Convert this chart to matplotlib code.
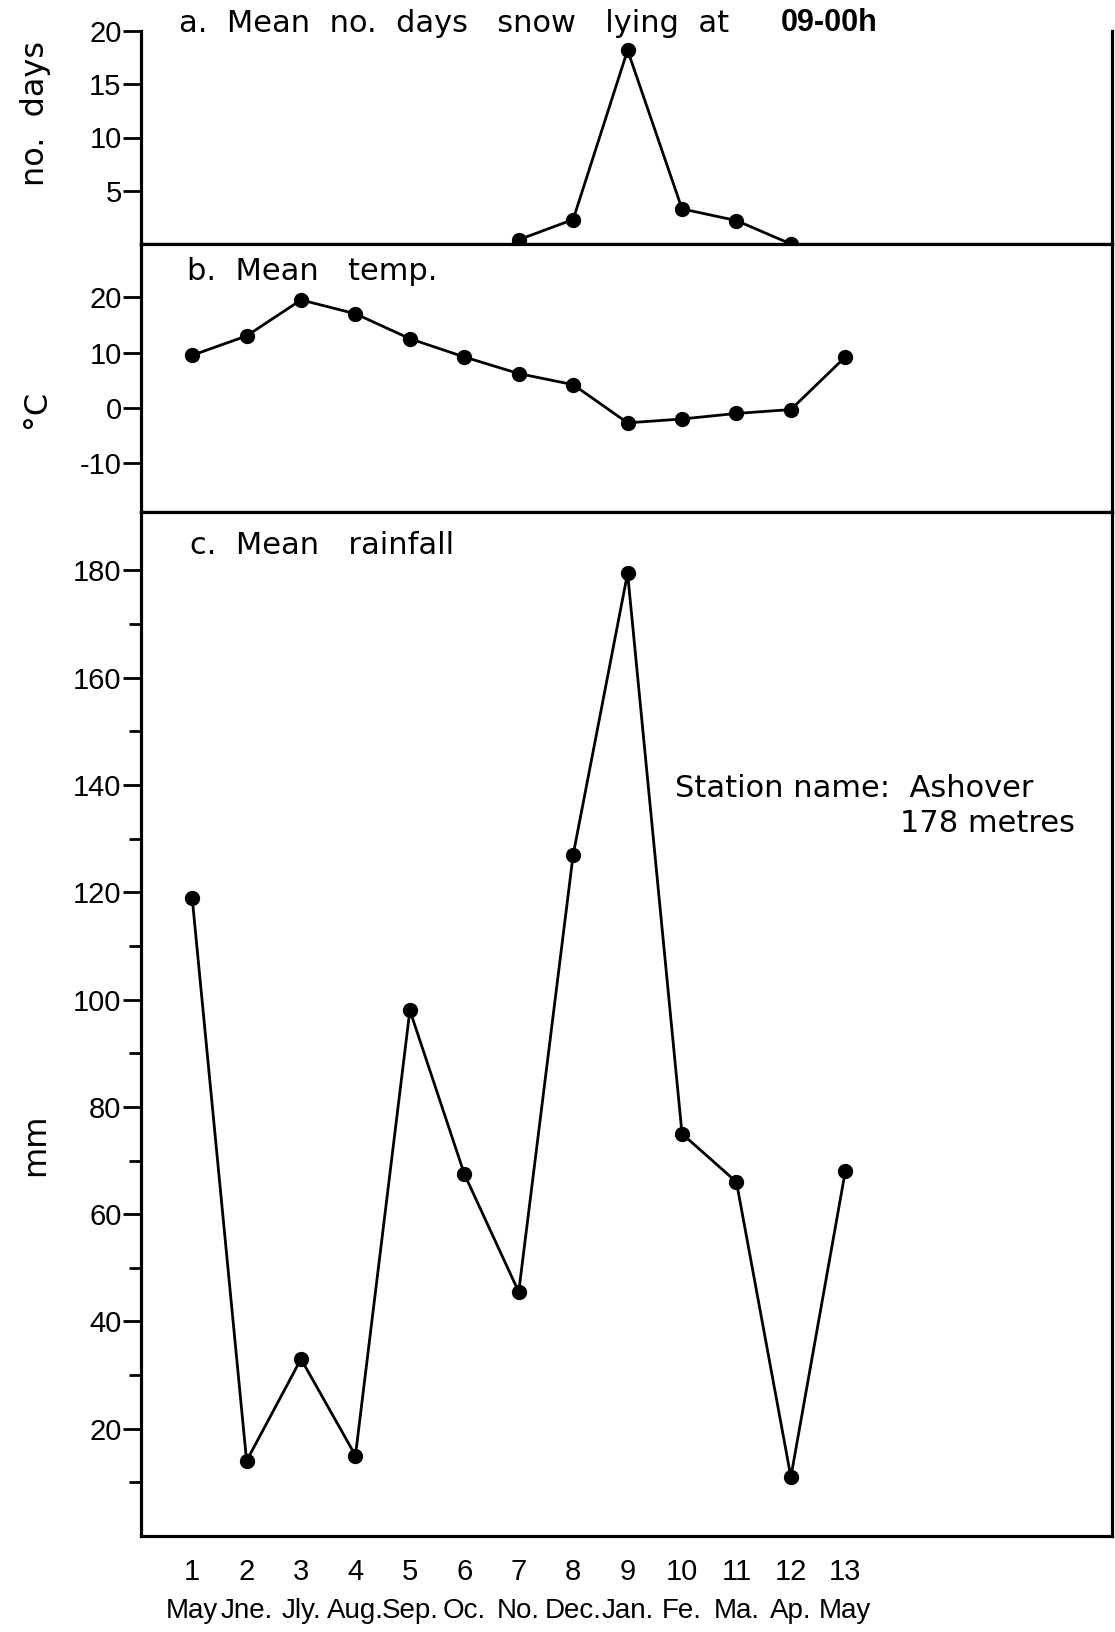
import matplotlib
matplotlib.use("Agg")
import matplotlib.pyplot as plt
import matplotlib.transforms as mtransforms

# ---- data ----
months_num = list(range(1, 14))
month_names = ["May", "Jne.", "Jly.", "Aug.", "Sep.", "Oc.", "No.", "Dec.", "Jan.", "Fe.", "Ma.", "Ap.", "May"]
snow_months = [7, 8, 9, 10, 11, 12]
snow_days = [0.4, 2.3, 18.2, 3.3, 2.2, 0.0]
temp_c = [9.5, 13.0, 19.5, 17.0, 12.5, 9.2, 6.2, 4.2, -2.7, -2.0, -1.0, -0.3, 9.2]
rain_mm = [119, 14, 33, 15, 98, 67.5, 45.5, 127, 179.5, 75, 66, 11, 68]

W, H = 1115, 1632
plt.rcParams['font.family'] = ['Liberation Sans', 'DejaVu Sans']
fig = plt.figure(figsize=(W / 100, H / 100), dpi=100)

L = 141 / W
R = 1112 / W
def box(top, bottom):
    return [L, 1 - bottom / H, R - L, (bottom - top) / H]

ax_a = fig.add_axes(box(31, 244))
ax_b = fig.add_axes(box(244, 512))
ax_c = fig.add_axes(box(512, 1536))

LW = 2.3
mk = dict(color='black', lw=2.0, marker='o', ms=10, mfc='black', mec='black', clip_on=False)

for ax in (ax_a, ax_b, ax_c):
    ax.set_xlim(0.06, 17.9)
    for s in ax.spines.values():
        s.set_linewidth(LW)
    ax.tick_params(axis='y', direction='out', length=13, width=2, labelsize=21, pad=1)
    ax.tick_params(axis='x', length=0)

# panel a
ax_a.plot(snow_months, snow_days, **mk)
ax_a.set_ylim(0, 20)
ax_a.set_yticks([5, 10, 15, 20])
ax_a.set_yticklabels(["5", "10", "15", "20"])
ax_a.spines['top'].set_visible(False)
ax_a.set_xticks([])

# panel b
ax_b.plot(months_num, temp_c, **mk)
ax_b.set_ylim(-18.8, 29.6)
ax_b.set_yticks([20, 10, 0, -10])
ax_b.set_yticklabels(["20", "10", "0", "-10"])
ax_b.set_xticks([])

# panel c
ax_c.plot(months_num, rain_mm, **mk)
ax_c.set_ylim(0, 190.9)
ax_c.set_yticks(list(range(20, 181, 20)))
ax_c.set_yticks(list(range(10, 181, 20)), minor=True)
ax_c.tick_params(axis='y', which='minor', direction='out', length=9, width=2)
ax_c.set_xticks(months_num)
ax_c.set_xticklabels([str(n) for n in months_num], fontsize=21)
ax_c.tick_params(axis='x', pad=16)
trans = mtransforms.blended_transform_factory(ax_c.transData, fig.transFigure)
for n, name in zip(months_num, month_names):
    ax_c.text(n, 1 - 1611 / H, name, transform=trans, ha='center', va='center',
              fontsize=20)

def ftext(x, y, s, **kw):
    kw.setdefault('family', 'DejaVu Sans')
    fig.text(x / W, 1 - y / H, s, va='center', ha='left', **kw)

ftext(179, 23, "a.  Mean  no.  days   snow   lying  at", fontsize=22)
ftext(781, 23, "09-00h", fontsize=22, fontweight='bold', family='Liberation Sans')
ftext(187, 271, "b.  Mean   temp.", fontsize=22)
ftext(190, 545, "c.  Mean   rainfall", fontsize=22)
ftext(675, 789, "Station name:  Ashover", fontsize=22)
ftext(900, 823, "178 metres", fontsize=22)

fig.text(36 / W, 1 - 113 / H, "no.  days", rotation=90, ha='center', va='center', fontsize=23,
         family='DejaVu Sans')
fig.text(36 / W, 1 - 409 / H, "°C", rotation=90, ha='center', va='center', fontsize=23,
         family='DejaVu Sans')
fig.text(36 / W, 1 - 1145 / H, "mm", rotation=90, ha='center', va='center', fontsize=23,
         family='DejaVu Sans')

fig.savefig("out.png", dpi=100, facecolor='white')
